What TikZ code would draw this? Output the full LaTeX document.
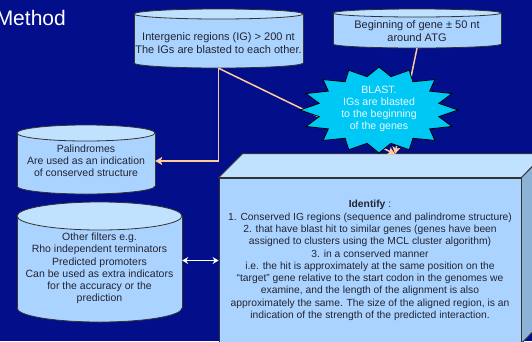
\documentclass[tikz,border=0pt]{standalone}
\usepackage{fontspec}
\setmainfont{Liberation Sans}
\usepackage{xcolor}
\usepackage{tikz}
\usetikzlibrary{arrows.meta,positioning,calc}

\definecolor{bgblue}{RGB}{2,14,138}
\definecolor{cylbody}{RGB}{170,212,255}
\definecolor{cyltop}{RGB}{192,226,255}
\definecolor{boxside}{RGB}{140,178,214}
\definecolor{peach}{RGB}{255,204,153}
\definecolor{starcyan}{RGB}{0,200,245}
\definecolor{inkdark}{RGB}{35,35,50}

% x1, x2, centre y of top ellipse, centre y of bottom ellipse, y radius
\newcommand{\drumshape}[5]{%
  \filldraw[cylline,fill=cylbody] ({(#1+#2)/2},#4) ellipse [x radius={(#2-#1)/2},y radius=#5];
  \fill[cylbody] (#1,#3) rectangle (#2,#4);
  \draw[cylline] (#1,#3) -- (#1,#4) (#2,#3) -- (#2,#4);
  \filldraw[cylline,fill=cyltop] ({(#1+#2)/2},#3) ellipse [x radius={(#2-#1)/2},y radius=#5];
}

\begin{document}
\begin{tikzpicture}[x=1pt,y=-1pt,
  cylline/.style={draw=black!80,line width=0.8pt},
  cyltext/.style={inner sep=0pt,align=center,text=inkdark},
  link/.style={peach,line width=1.5pt,-{Stealth[length=7pt,width=8pt,inset=1.5pt]}},
  both/.style={white,line width=1.5pt,{Stealth[length=6pt,width=7pt]}-{Stealth[length=6pt,width=7pt]}},
  blaststar/.style={draw=black,line width=0.8pt,fill=starcyan}]
  \useasboundingbox (0,0) rectangle (532,341);
  \fill[bgblue] (0,0) rectangle (532,341);
  \node[anchor=base east,white,inner sep=0pt,font=\fontsize{21}{24}\selectfont] (title) at (66,25) {Method};

  % the four data stores
  \drumshape{134}{303}{14}{63}{5}
  \node[cyltext,minimum width=169,minimum height=49,font=\fontsize{11}{13}\selectfont] (ig) at (218.5,43.5)
    {Intergenic regions (IG) > 200 nt\\The IGs are blasted to each other.};
  \drumshape{333}{501}{13}{44}{4}
  \node[cyltext,minimum width=168,minimum height=33,font=\fontsize{11}{13}\selectfont] (gene) at (417,31.5)
    {Beginning of gene ± 50 nt\\around ATG};
  \drumshape{17}{155}{133}{186}{8}
  \node[cyltext,minimum width=138,font=\fontsize{10.5}{11.8}\selectfont] (pal) at (86,161)
    {Palindromes\\Are used as an indication\\of conserved structure};
  \drumshape{17}{182}{216}{308}{14}
  \node[cyltext,minimum width=165,font=\fontsize{10.5}{12.2}\selectfont] (filt) at (99.5,268.5)
    {Other filters e.g.\\Rho independent terminators\\Predicted promoters\\Can be used as extra indicators\\for the accuracy or the\\prediction};

  % the result box
  \node[cyltext,draw=black!80,line width=0.8pt,fill=cylbody,minimum width=302,minimum height=165,
    font=\fontsize{10.3}{12.3}\selectfont] (id) at (370,260.5)
    {\textbf{Identify} :\\
     1. Conserved IG regions (sequence and palindrome structure)\\
     2. that have blast hit to similar genes (genes have been\\
     assigned to clusters using the MCL cluster algorithm)\\
     3. in a conserved manner\\
     i.e. the hit is approximately at the same position on the\\
     “target” gene relative to the start codon in the genomes we\\
     examine, and the length of the alignment is also\\
     approximately the same. The size of the aligned region, is an\\
     indication of the strength of the predicted interaction.};
  \filldraw[cylline,fill=cyltop] (id.north west) -- ++(24,-24) -- ++(302,0) -- (id.north east) -- cycle;
  \filldraw[cylline,fill=boxside] (id.north east) -- ++(24,-24) -- ++(0,165) -- (id.south east) -- cycle;
  \coordinate (hit) at (395,154);

  \draw[link] (ig.south) -- (hit);
  \draw[link] (gene.south) -- (hit);
  \draw[link] (ig.south) |- (pal.east);
  \draw[both] (filt.east |- id.west) -- (id.west);

  % BLAST burst
  \draw[blaststar,shift={(379,110)}] (90:79 and 43)
    \foreach \k in {0,...,15}{ -- ({101.25+22.5*\k}:61 and 34) -- ({112.5+22.5*\k}:79 and 43)} -- cycle;
  \node[align=center,inner sep=0pt,text=white!92!cyan,font=\fontsize{10.6}{12}\selectfont] (blast) at (379,109)
    {BLAST.\\IGs are blasted\\to the beginning\\of the genes};
\end{tikzpicture}
\end{document}
